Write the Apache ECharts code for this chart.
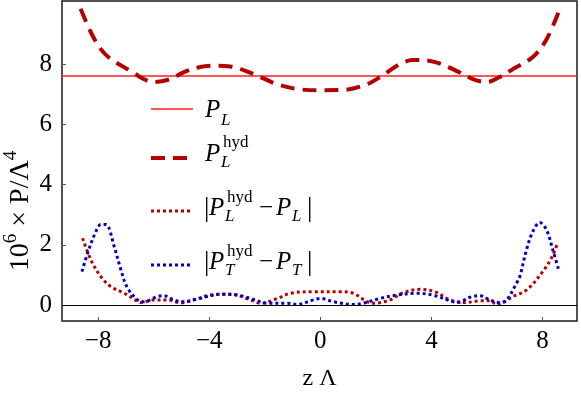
<!DOCTYPE html>
<html><head><meta charset="utf-8">
<script src="https://cdn.jsdelivr.net/npm/echarts@6/dist/echarts.min.js"></script>
<style>html,body{margin:0;padding:0;background:#fff}#c{width:581px;height:394px}</style>
</head><body><div id="c"></div>
<script>
// ---- data ----
const PL = 7.6;
const hydZ = [-8.63,-8.27,-7.91,-7.55,-6.83,-6.36,-6.0,-5.39,-4.93,-4.32,-3.86,-3.25,-2.42,-1.56,-0.84,0,0.83,1.69,2.26,2.87,3.34,3.95,4.77,5.49,5.99,6.46,6.93,7.65,8.15,8.62];
const hydP = [9.83,9.07,8.5,8.17,7.77,7.5,7.4,7.5,7.72,7.9,7.94,7.92,7.67,7.33,7.17,7.13,7.14,7.33,7.63,8.0,8.13,8.1,7.83,7.5,7.4,7.57,7.83,8.23,8.83,9.83];
const dLZ = [-8.56,-8.26,-7.9,-7.54,-7.07,-6.71,-6.46,-6.0,-5.5,-5.03,-4.56,-3.95,-3.23,-2.51,-2.15,-1.54,-1.08,-0.25,0.72,1.18,1.69,1.9,2.51,2.98,3.59,4.13,4.67,5.21,5.75,6.1,6.36,6.93,7.43,8.0,8.32,8.55];
const dLV = [2.22,1.5,0.94,0.61,0.4,0.2,0.08,0.17,0.17,0.07,0.17,0.33,0.36,0.17,0.06,0.22,0.39,0.44,0.44,0.39,0.11,0.06,0.17,0.41,0.52,0.44,0.17,0.08,0.14,0.14,0.02,0.28,0.5,1.1,1.56,2.08];
const dTZ = [-8.58,-8.38,-8.08,-7.9,-7.72,-7.42,-7.18,-6.94,-6.58,-6.36,-5.86,-5.64,-5.28,-4.92,-4.42,-3.59,-2.98,-2.51,-1.9,-1.18,-0.83,-0.25,0,0.47,1.18,1.54,2.15,2.76,3.48,4.06,4.67,4.96,5.39,5.75,6.1,6.46,6.71,7.06,7.18,7.42,7.65,7.9,8.14,8.37,8.58];
const dTV = [1.11,1.72,2.44,2.67,2.67,1.94,1.17,0.56,0.17,0.11,0.28,0.31,0.17,0.11,0.2,0.36,0.33,0.22,0.06,0.06,0.02,0.17,0.22,0.11,0.02,0.06,0.22,0.33,0.39,0.33,0.14,0.09,0.26,0.31,0.17,0.08,0.17,0.72,0.94,1.83,2.44,2.74,2.5,1.83,1.17];
const xTicks = [-8,-4,0,4,8];
const yTicks = [0,2,4,6,8];

const zip = (a,b)=>a.map((v,i)=>[v,b[i]]);
const FONT = 'Liberation Serif';
const RED = '#ff1f1f', DRED = '#b40000', BLUE = '#0000c4';

const chart = echarts.init(document.getElementById('c'), null, {renderer:'canvas'});

function t(str, x, base, size, italic){
  return {type:'text', x:x, y:base-0.34*size, silent:true,
    style:{text:str, x:0, y:0, fontFamily:FONT, fontSize:size, fontStyle: italic?'italic':'normal',
      fill:'#000', align:'left', verticalAlign:'middle'}};
}
function ln(y, color, width, dash){
  return {type:'line', silent:true, shape:{x1:151, y1:y, x2:193, y2:y},
    style:{stroke:color, lineWidth:width, lineDash:dash||null, lineCap:'butt'}};
}
const M = 25, S = 17;
const graphics = [
  ln(109, RED, 1.5),
  t('P', 205, 119, M, true), t('L', 221, 126, S, true),
  ln(158, DRED, 4, [14,8]),
  t('P', 205, 163, M, true), t('hyd', 223, 148, S, false), t('L', 221, 168, S, true),
  ln(211, DRED, 3, [3,3]),
  t('|', 204, 218, 27, false), t('P', 209, 217, M, true), t('hyd', 227, 203, S, false), t('L', 225, 222, S, true),
  t('−', 259, 217, M, false), t('P', 276, 217, M, true), t('L', 292, 222, S, true), t('|', 307, 218, 27, false),
  ln(265, BLUE, 3, [3,3]),
  t('|', 204, 272, 27, false), t('P', 209, 271, M, true), t('hyd', 227, 257, S, false), t('T', 225, 276, S, true),
  t('−', 259, 271, M, false), t('P', 276, 271, M, true), t('T', 292, 276, S, true), t('|', 307, 272, 27, false),
  {type:'text', x:21, y:211, rotation:Math.PI/2, silent:true,
   style:{text:'10{s|6} × P/Λ{s|4}', x:0, y:0, align:'center', verticalAlign:'middle',
     fontFamily:FONT, fontSize:28, fill:'#000', lineHeight:39,
     rich:{s:{fontFamily:FONT, fontSize:19, verticalAlign:'top', lineHeight:19}}}}
];

chart.setOption({
  animation:false,
  grid:{left:62, right:4, top:1, bottom:73, show:true, borderColor:'#1a1a1a', borderWidth:1.5,
    containLabel:false, outerBoundsMode:'none'},
  xAxis:{type:'value', min:-9.3, max:9.24,
    name:'z Λ', nameLocation:'middle', nameGap:46,
    nameTextStyle:{fontFamily:FONT, fontSize:24, color:'#000'},
    axisLine:{show:false, onZero:false}, splitLine:{show:false},
    axisTick:{show:true, inside:true, length:4, lineStyle:{color:'#555'}, customValues:xTicks},
    axisLabel:{fontFamily:FONT, fontSize:25, color:'#000', margin:8, customValues:xTicks,
      formatter:v=> v<0 ? '−'+Math.abs(v) : String(v)}},
  yAxis:{type:'value', min:-0.53, max:10.09,
    axisLine:{show:false, onZero:false}, splitLine:{show:false},
    axisTick:{show:true, inside:true, length:4, lineStyle:{color:'#555'}, customValues:yTicks},
    axisLabel:{fontFamily:FONT, fontSize:25, color:'#000', margin:10, customValues:yTicks}},
  series:[
    {type:'line', name:'PL', data:[[-9.3,PL],[9.24,PL]], showSymbol:false, symbol:'none',
      lineStyle:{color:RED, width:1.5}, z:2},
    {type:'line', name:'hyd', data:zip(hydZ,hydP), showSymbol:false, symbol:'none', smooth:0.35,
      lineStyle:{color:DRED, width:4, type:[14,8], cap:'butt'}, z:3},
    {type:'line', name:'dL', data:zip(dLZ,dLV), showSymbol:false, symbol:'none', smooth:0.35,
      lineStyle:{color:DRED, width:3, type:[3,3], cap:'butt'}, z:3,
      markLine:{silent:true, symbol:'none', label:{show:false}, animation:false,
        lineStyle:{color:'#000', width:1, type:'solid'}, data:[{yAxis:0}]}},
    {type:'line', name:'dT', data:zip(dTZ,dTV), showSymbol:false, symbol:'none', smooth:0.35,
      lineStyle:{color:BLUE, width:3, type:[3,3], cap:'butt'}, z:4}
  ],
  graphic:graphics
});
</script></body></html>
